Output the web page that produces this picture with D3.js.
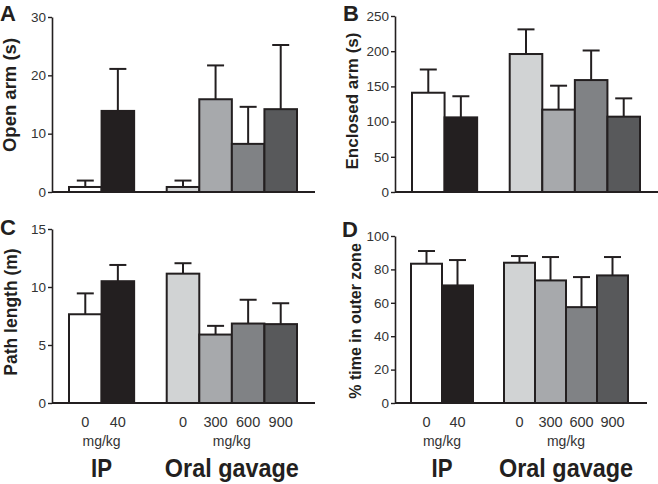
<!DOCTYPE html>
<html>
<head>
<meta charset="utf-8">
<script src="https://cdn.jsdelivr.net/npm/d3@7"></script>
<style>
  body { margin: 0; background: #fff; }
  svg { display: block; font-family: "Liberation Sans", Arial, Helvetica, sans-serif; }
</style>
</head>
<body>
<svg id="chart" width="658" height="484"></svg>
<script>
// slot keys: two IP bars, an empty gap slot, four oral gavage bars
const slots = ["ip0", "ip40", "gap", "og0", "og300", "og600", "og900"];
const barKeys = ["ip0", "ip40", "og0", "og300", "og600", "og900"];
const doseLabels = ["0", "40", "0", "300", "600", "900"];
const groupNames = ["IP", "Oral gavage"];
const groupMembers = [["ip0", "ip40"], ["og0", "og300", "og600", "og900"]];

const openArm = [0.86, 13.9, 0.86, 15.9, 8.25, 14.2];
const openArmErr = [1.1, 7.2, 1.1, 5.8, 6.35, 11.0];
const enclosedArm = [141, 106, 196, 117, 159, 107];
const enclosedArmErr = [33, 30, 35, 34, 42, 26];
const pathLength = [7.65, 10.5, 11.15, 5.9, 6.85, 6.8];
const pathLengthErr = [1.8, 1.4, 0.9, 0.75, 2.05, 1.8];
const outerZone = [83.4, 70.4, 84, 73.4, 57.4, 76.4];
const outerZoneErr = [7.6, 15.2, 4, 14, 18, 11];

const yTicksA = [0, 10, 20, 30];
const yTicksB = [0, 50, 100, 150, 200, 250];
const yTicksC = [0, 5, 10, 15];
const yTicksD = [0, 20, 40, 60, 80, 100];

const fills = ["#ffffff", "#231f20", "#d1d3d4", "#a7a9ac", "#808285", "#58595b"];
const ink = "#231f20";

const svg = d3.select("#chart");

function panel(cfg) {
  const g = svg.append("g");
  const y = d3.scaleLinear().domain(cfg.domain).range([cfg.y0, cfg.y1]);
  const x = d3.scaleBand().domain(slots).range(cfg.band).paddingInner(0);
  const rows = barKeys.map((k, i) => ({ key: k, v: cfg.values[i], e: cfg.errs[i], fill: fills[i], dose: doseLabels[i] }));

  // error bars (drawn first so the bar outline sits on top)
  const eb = g.append("g").attr("stroke", ink).attr("stroke-width", 2);
  rows.forEach(d => {
    const cx = x(d.key) + x.bandwidth() / 2;
    eb.append("line").attr("x1", cx).attr("x2", cx).attr("y1", y(d.v)).attr("y2", y(d.v + d.e));
    eb.append("line").attr("x1", cx - 8.5).attr("x2", cx + 8.5).attr("y1", y(d.v + d.e)).attr("y2", y(d.v + d.e));
  });

  g.selectAll("rect.bar").data(rows).enter().append("rect")
    .attr("class", "bar")
    .attr("x", d => x(d.key))
    .attr("width", x.bandwidth())
    .attr("y", d => y(d.v))
    .attr("height", d => y(0) - y(d.v))
    .attr("fill", d => d.fill)
    .attr("stroke", ink)
    .attr("stroke-width", 2);

  // y axis
  const ax = g.append("g")
    .attr("transform", "translate(" + cfg.axisX + ",0)")
    .call(d3.axisLeft(y).tickValues(cfg.ticks).tickSize(4).tickPadding(2).tickSizeOuter(0));
  ax.select(".domain").attr("stroke", ink).attr("stroke-width", 1.6);
  ax.selectAll(".tick line").attr("stroke", ink).attr("stroke-width", 1.4);
  ax.selectAll(".tick text").attr("fill", "#333").style("font-size", "13.5px").style("font-family", "'Liberation Sans', Arial, sans-serif");

  // x baseline
  g.append("line")
    .attr("x1", cfg.axisX).attr("x2", cfg.xEnd)
    .attr("y1", y(0)).attr("y2", y(0))
    .attr("stroke", ink).attr("stroke-width", 1.8);

  // y label
  g.append("text")
    .attr("transform", "translate(" + cfg.labelPos[0] + "," + cfg.labelPos[1] + ") rotate(-90)")
    .attr("text-anchor", "middle")
    .attr("dy", "0.36em")
    .style("font-size", cfg.labelSize + "px")
    .style("font-weight", "bold")
    .attr("fill", ink)
    .text(cfg.label);

  // panel letter
  g.append("text")
    .attr("x", cfg.letterPos[0]).attr("y", cfg.letterPos[1])
    .style("font-size", "22px").style("font-weight", "bold")
    .attr("fill", ink)
    .text(cfg.letter);

  if (cfg.doses) {
    g.selectAll("text.dose").data(rows).enter().append("text")
      .attr("class", "dose")
      .attr("x", d => x(d.key) + x.bandwidth() / 2)
      .attr("y", y(0) + 24)
      .attr("text-anchor", "middle")
      .style("font-size", "14.5px")
      .attr("fill", "#333")
      .text(d => d.dose);

    groupMembers.forEach((m, i) => {
      const cx = (x(m[0]) + x(m[m.length - 1]) + x.bandwidth()) / 2;
      g.append("text")
        .attr("x", cx).attr("y", y(0) + 43)
        .attr("text-anchor", "middle")
        .style("font-size", "14px")
        .attr("fill", "#333")
        .text("mg/kg");
      g.append("text")
        .attr("x", cx).attr("y", y(0) + 74)
        .attr("text-anchor", "middle")
        .attr("textLength", i === 0 ? 21 : 134)
        .attr("lengthAdjust", "spacingAndGlyphs")
        .style("font-size", "25px").style("font-weight", "bold")
        .attr("fill", ink)
        .text(groupNames[i]);
    });
  }
}

panel({ letter: "A", letterPos: [0, 21], label: "Open arm (s)", labelPos: [9, 95], labelSize: 18.5,
  domain: [0, 30], ticks: yTicksA, y0: 192, y1: 17, axisX: 52, xEnd: 315, band: [69, 297],
  values: openArm, errs: openArmErr });
panel({ letter: "B", letterPos: [343, 21], label: "Enclosed arm (s)", labelPos: [352, 101], labelSize: 17,
  domain: [0, 250], ticks: yTicksB, y0: 192, y1: 16, axisX: 395, xEnd: 658, band: [412, 640],
  values: enclosedArm, errs: enclosedArmErr });
panel({ letter: "C", letterPos: [0, 235], label: "Path length (m)", labelPos: [11, 312], labelSize: 17.5,
  domain: [0, 15], ticks: yTicksC, y0: 403, y1: 229, axisX: 52, xEnd: 315, band: [69, 297],
  values: pathLength, errs: pathLengthErr, doses: true });
panel({ letter: "D", letterPos: [342, 237], label: "% time in outer zone", labelPos: [355, 321], labelSize: 16,
  domain: [0, 100], ticks: yTicksD, y0: 403, y1: 236, axisX: 395, xEnd: 647, band: [411, 628],
  values: outerZone, errs: outerZoneErr, doses: true });
</script>
</body>
</html>
